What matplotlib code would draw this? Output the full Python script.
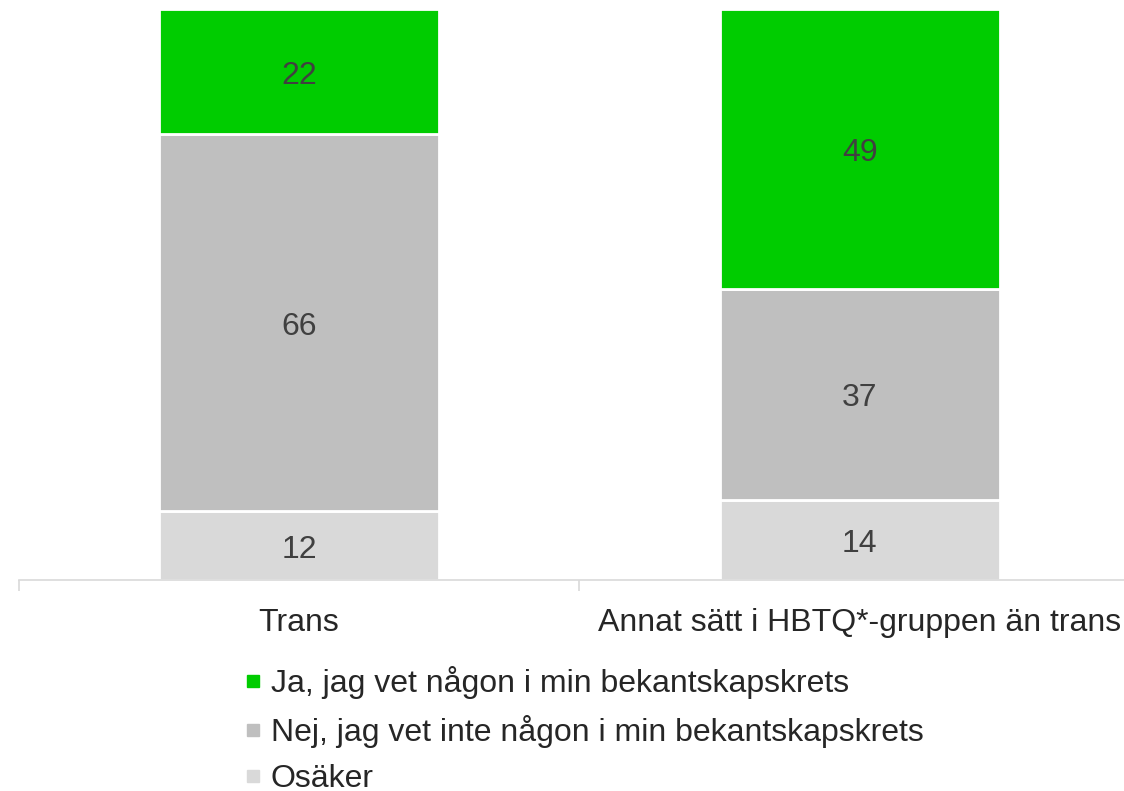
import matplotlib.pyplot as plt
from matplotlib.lines import Line2D

plt.rcParams["font.family"] = ["Liberation Sans", "DejaVu Sans"]

categories = ["Trans", "Annat sätt i HBTQ*-gruppen än trans"]
osaker = [12, 14]
nej = [66, 37]
ja = [22, 49]
series_labels = [
    "Ja, jag vet någon i min bekantskapskrets",
    "Nej, jag vet inte någon i min bekantskapskrets",
    "Osäker",
]
colors = {"ja": "#00CC00", "nej": "#BFBFBF", "osaker": "#D9D9D9"}

fig = plt.figure(figsize=(11.24, 7.91), dpi=100)
ax = fig.add_axes([0.0165, 0.2668, 0.998, 0.7222])

x = list(range(len(categories)))
width = 0.5
bottom_nej = osaker
bottom_ja = [a + b for a, b in zip(osaker, nej)]

for vals, bottoms, key in [(osaker, [0, 0], "osaker"), (nej, bottom_nej, "nej"), (ja, bottom_ja, "ja")]:
    ax.bar(x, vals, width, bottom=bottoms, color=colors[key],
           edgecolor="white", linewidth=2)
    # value labels, nudged a little below centre like the original
    for xi, v, b in zip(x, vals, bottoms):
        ax.annotate(str(v), (xi, b + v / 2), xytext=(0, -3),
                    textcoords="offset points", ha="center", va="center",
                    fontsize=23, color="#404040")

ax.set_xlim(-0.5, 1.5)
ax.set_ylim(0, 100)
ax.set_yticks([])
for s in ["top", "right", "left"]:
    ax.spines[s].set_visible(False)
ax.spines["bottom"].set_color("#D9D9D9")
ax.spines["bottom"].set_linewidth(1.2)

ax.set_xticks([-0.5, 0.5, 1.5])
ax.set_xticklabels([])
ax.set_xticks(x, minor=True)
ax.set_xticklabels(categories, minor=True, fontsize=23, color="#262626")
ax.tick_params(axis="x", which="major", length=8, color="#D9D9D9", width=1.2)
ax.tick_params(axis="x", which="minor", length=0, pad=20)

handles = [
    Line2D([], [], marker="s", linestyle="none", markersize=8.5,
           markerfacecolor=colors[k], markeredgecolor=colors[k])
    for k in ["ja", "nej", "osaker"]
]
fig.legend(handles, series_labels, loc="upper left",
           bbox_to_anchor=(0.218, 0.158), frameon=False, fontsize=23,
           handlelength=0.5, handletextpad=0.3, labelspacing=0.5,
           borderpad=0, borderaxespad=0, labelcolor="#262626")

fig.savefig("out.png", dpi=100)
